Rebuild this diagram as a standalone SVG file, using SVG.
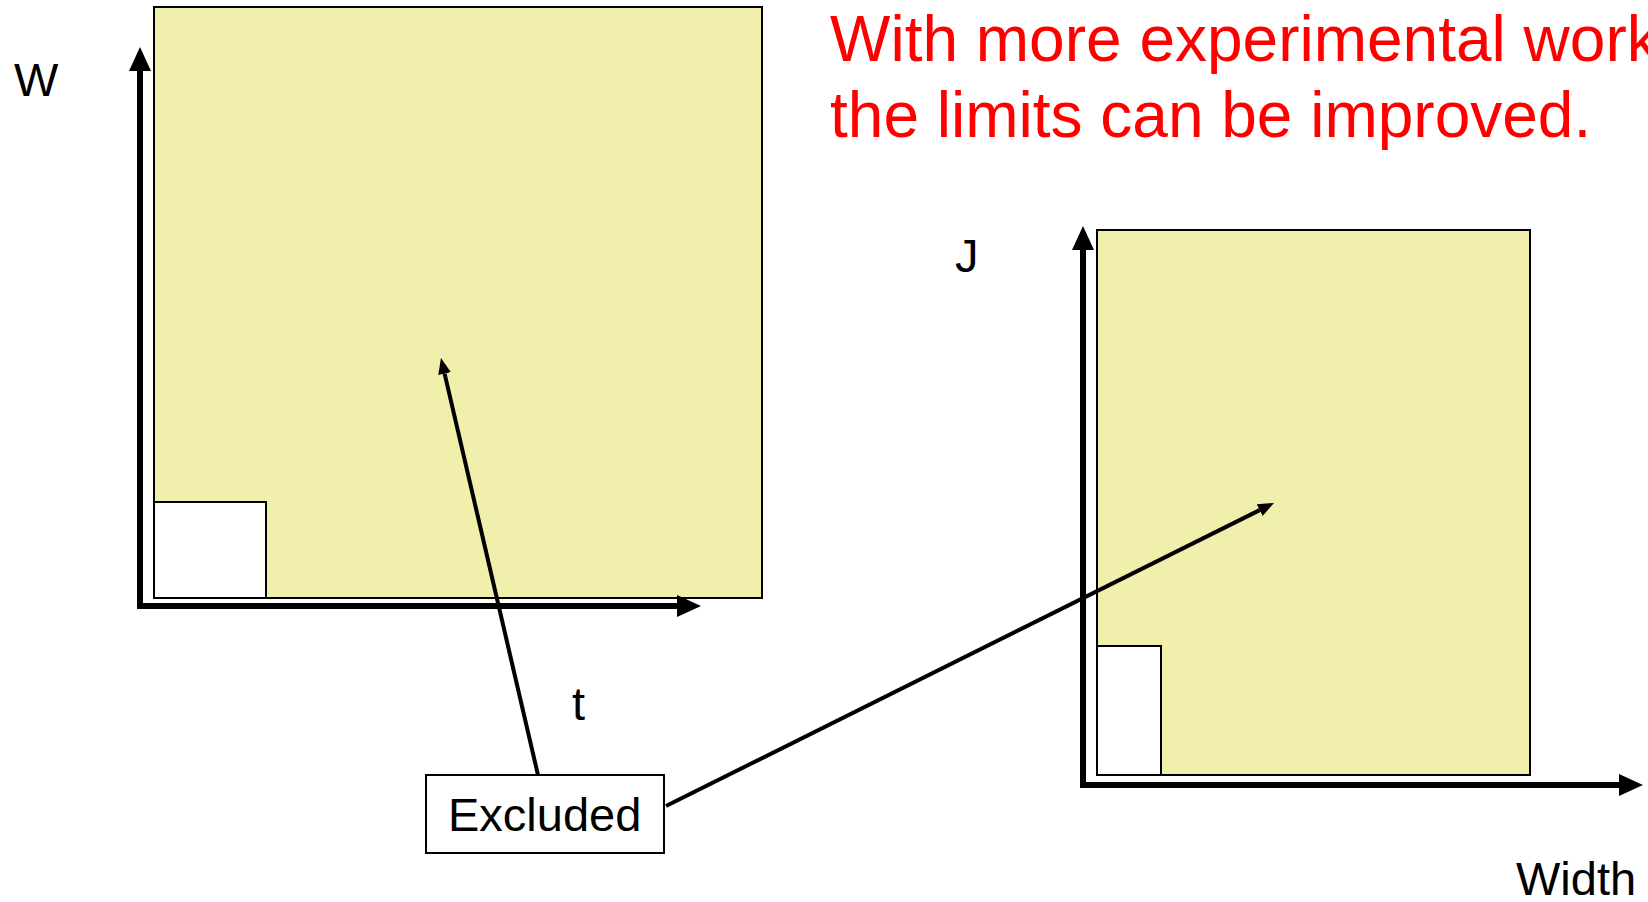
<svg xmlns="http://www.w3.org/2000/svg" width="1648" height="902" viewBox="0 0 1648 902">
<style>
.plot{fill:#F0F0AC;stroke:#000;stroke-width:2}
.excl{fill:#fff;stroke:#000;stroke-width:2}
.axis{stroke:#000;stroke-width:6;fill:none}
.conn{stroke:#000;stroke-width:4;fill:none}
.lbl{font-family:"Liberation Sans",Arial,sans-serif;font-size:47px;fill:#000}
.note{font-family:"Liberation Sans",Arial,sans-serif;font-size:64px;fill:#FF0000}
</style>
<defs>
<marker id="axhead" viewBox="0 0 24 22" refX="0" refY="11" markerWidth="24" markerHeight="22" markerUnits="userSpaceOnUse" orient="auto">
<path d="M0,0 L24,11 L0,22 z" fill="#000"/>
</marker>
<marker id="cnhead" viewBox="0 0 16 13" refX="0" refY="6.5" markerWidth="16" markerHeight="13" markerUnits="userSpaceOnUse" orient="auto">
<path d="M0,0 L16,6.5 L0,13 z" fill="#000"/>
</marker>
</defs>
<rect width="1648" height="902" fill="#fff"/>

<g id="plot-left">
<rect class="plot" x="154" y="7" width="608" height="591"/>
<rect class="excl" x="154" y="502" width="112" height="96"/>
</g>
<g id="axes-left">
<line class="axis" x1="140" y1="609" x2="140" y2="71" marker-end="url(#axhead)"/>
<line class="axis" x1="137" y1="606" x2="677" y2="606" marker-end="url(#axhead)"/>
</g>
<g id="label-W"><text class="lbl" x="14" y="96">W</text></g>
<g id="label-t"><text class="lbl" x="572" y="720">t</text></g>

<g id="plot-right">
<rect class="plot" x="1097" y="230" width="433" height="545"/>
<rect class="excl" x="1097" y="646" width="64" height="129"/>
</g>
<g id="axes-right">
<line class="axis" x1="1083" y1="788" x2="1083" y2="250" marker-end="url(#axhead)"/>
<line class="axis" x1="1080" y1="785" x2="1619" y2="785" marker-end="url(#axhead)"/>
</g>
<g id="label-J"><text class="lbl" x="955" y="272">J</text></g>
<g id="label-Width"><text class="lbl" x="1516" y="895">Width</text></g>

<g id="note"><text class="note" x="830" y="61">With more experimental work</text><text class="note" x="830" y="137">the limits can be improved.</text></g>

<g id="excluded">
<rect x="426" y="775" width="238" height="78" fill="#fff" stroke="#000" stroke-width="2"/>
<text class="lbl" x="448" y="831">Excluded</text>
</g>

<g id="connectors">
<line class="conn" x1="538" y1="775" x2="444.6" y2="373.6" marker-end="url(#cnhead)"/>
<line class="conn" x1="666" y1="806" x2="1259.7" y2="510.1" marker-end="url(#cnhead)"/>
</g>
</svg>
